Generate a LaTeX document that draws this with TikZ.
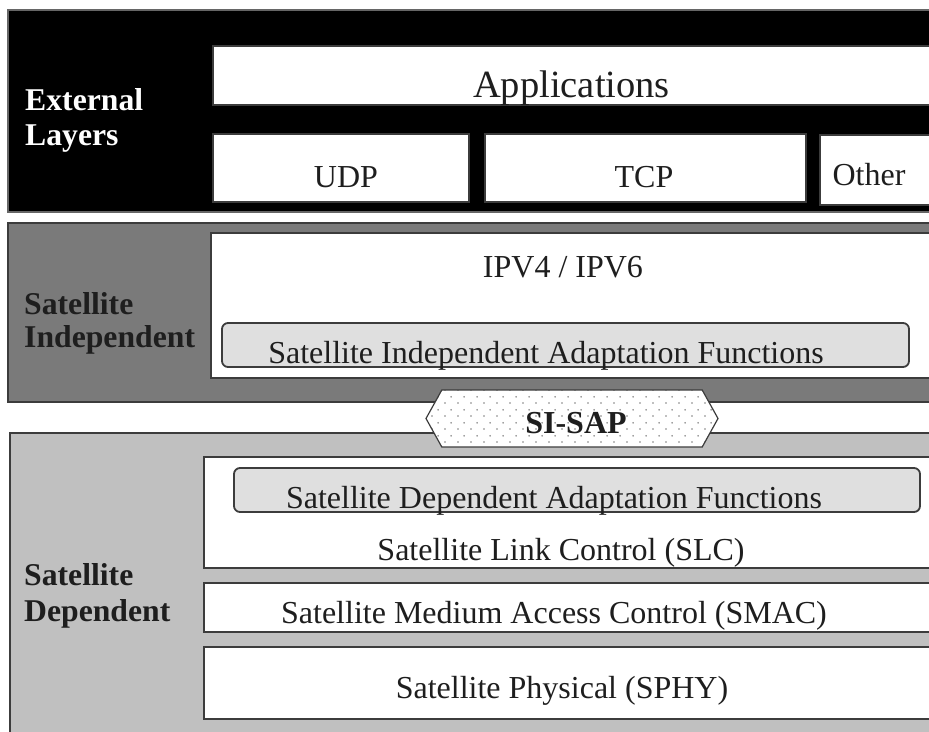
\documentclass[tikz,border=0pt]{standalone}
\usepackage{fontspec}
\setmainfont{Liberation Serif}
\usetikzlibrary{fit,shapes.symbols,patterns.meta}

\definecolor{edge}{HTML}{3C3C3C}
\definecolor{sipanel}{HTML}{7A7A7A}
\definecolor{sdpanel}{HTML}{C0C0C0}
\definecolor{adapt}{HTML}{DFDFDF}
\definecolor{ink}{HTML}{1E1E1E}

% staggered dot grid for the service access point
\tikzdeclarepattern{
  name=sapdots,
  type=uncolored,
  bottom left={(0pt,0pt)},
  top right={(13pt,13pt)},
  tile size={(13pt,13pt)},
  code={
    \fill (3.25pt,3.25pt) circle (0.9pt);
    \fill (9.75pt,9.75pt) circle (0.9pt);
  }
}

\begin{document}
\begin{tikzpicture}[
  x=1pt, y=-1pt,
  panel/.style={draw=edge, line width=1.2pt, inner sep=0pt},
  layerbox/.style={draw=edge, line width=1.8pt, fill=white, inner sep=0pt},
  adaptbox/.style={layerbox, fill=adapt, rounded corners=6pt},
  txt/.style={font=\fontsize{32}{38}\selectfont, inner sep=0pt, anchor=base, text=ink},
  bigtxt/.style={txt, font=\fontsize{38.5}{44}\selectfont},
  sidelabel/.style={font=\bfseries\fontsize{31.7}{35}\selectfont, inner sep=0pt, anchor=base west},
  sap/.style={shape=signal, signal to=east and west, signal pointer angle=122,
    draw=edge, line width=1.2pt, preaction={fill=white},
    pattern={sapdots}, pattern color=black!50,
    minimum width=292pt, minimum height=57pt, inner sep=0pt}
]
\useasboundingbox (0,0) rectangle (929,731);
\clip (0,0) rectangle (929,731);

% ---------------- external layers ----------------
\node[panel, draw=black!60, fill=black, fit={(8,10) (940,212)}] (extpanel) {};
\node[sidelabel, text=white] (extA) at (25,110) {External};
\node[sidelabel, text=white] (extB) at (25,145) {Layers};

\node[layerbox, fit={(213,46) (940,105)}] (apps) {};
\node[bigtxt] (appsT) at (571.5,97) {Applications};

\node[layerbox, fit={(213,134) (469,202)}] (udp) {};
\node[txt] (udpT) at (346,187) {UDP};
\node[layerbox, fit={(485,134) (806,202)}] (tcp) {};
\node[txt] (tcpT) at (644,187) {TCP};
\node[layerbox, fit={(820,135) (940,205)}] (other) {};
\node[txt] (otherT) at (869,185) {Other};

% ---------------- satellite independent ----------------
\node[panel, fill=sipanel, fit={(8,223) (940,402)}] (sipanel) {};
\node[sidelabel, text=ink] (siA) at (24,314) {Satellite};
\node[sidelabel, text=ink] (siB) at (24,347) {Independent};

\node[layerbox, fit={(211,233) (940,378)}] (ip) {};
\node[txt] (ipT) at (563,277.5) {IPV4 / IPV6};
\node[adaptbox, fit={(222,323) (909,367)}] (siaf) {};
\node[txt] (siafT) at (546,363) {Satellite Independent Adaptation Functions};

% ---------------- satellite dependent ----------------
\node[panel, fill=sdpanel, fit={(10,433) (940,745)}] (sdpanel) {};
\node[sidelabel, text=ink] (sdA) at (24,585) {Satellite};
\node[sidelabel, text=ink] (sdB) at (24,621) {Dependent};

\node[layerbox, fit={(204,457) (940,568)}] (slc) {};
\node[adaptbox, fit={(234,468) (920,512)}] (sdaf) {};
\node[txt] (sdafT) at (554,508.5) {Satellite Dependent Adaptation Functions};
\node[txt] (slcT) at (561,560.5) {Satellite Link Control (SLC)};

\node[layerbox, fit={(204,583) (940,632)}] (smac) {};
\node[txt] (smacT) at (554,623.5) {Satellite Medium Access Control (SMAC)};

\node[layerbox, fit={(204,647) (940,719)}] (sphy) {};
\node[txt] (sphyT) at (562,698.5) {Satellite Physical (SPHY)};

% ---------------- service access point ----------------
\node[sap] (sisap) at (572,418.5) {};
\node[txt, font=\bfseries\fontsize{32}{38}\selectfont] (sisapT) at (576,433) {SI-SAP};
\end{tikzpicture}
\end{document}
